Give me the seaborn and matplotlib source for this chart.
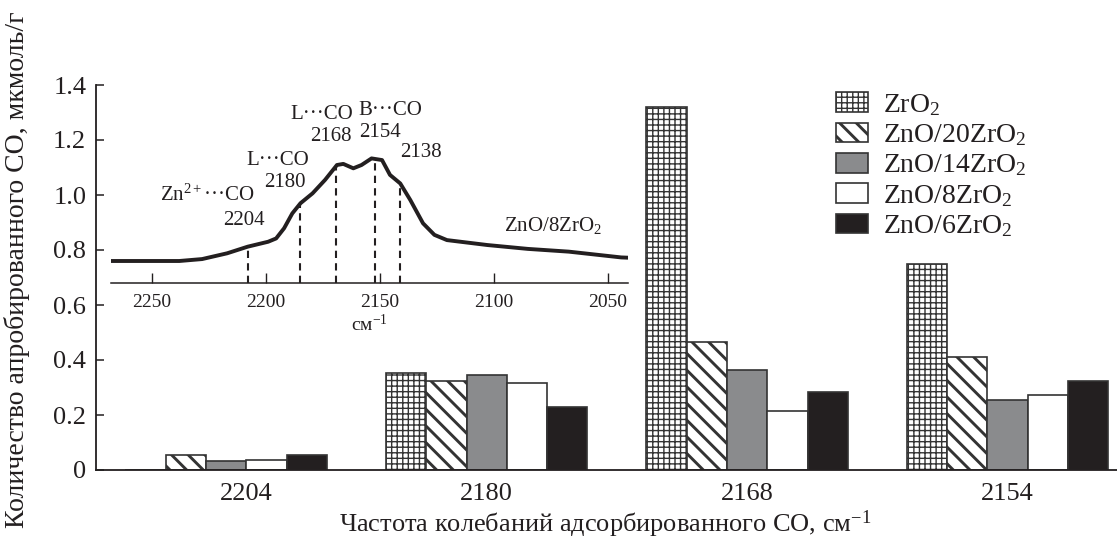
import numpy as np
import pandas as pd
import matplotlib
matplotlib.use("Agg")
import matplotlib.pyplot as plt
import seaborn as sns

# ---------------- data ----------------
categories = ["2204", "2180", "2168", "2154"]
series = ["ZrO$_2$", "ZnO/20ZrO$_2$", "ZnO/14ZrO$_2$", "ZnO/8ZrO$_2$", "ZnO/6ZrO$_2$"]
zro2 = [0.0, 0.353, 1.319, 0.749]
zno_20zro2 = [0.054, 0.324, 0.467, 0.411]
zno_14zro2 = [0.032, 0.347, 0.362, 0.255]
zno_8zro2 = [0.036, 0.318, 0.215, 0.273]
zno_6zro2 = [0.054, 0.229, 0.284, 0.324]

# inset IR spectrum of ZnO/8ZrO2 (wavenumber, arbitrary absorbance units)
spec_wn = [2268, 2238, 2228, 2217, 2208, 2199, 2195.5, 2192, 2188.4, 2184.8,
           2179.5, 2174, 2168.8, 2166, 2161.6, 2158, 2153.6, 2149, 2145.5,
           2141, 2136.6, 2131, 2126, 2120.5, 2102.7, 2085, 2067, 2044, 2041]
spec_abs = [0.760, 0.760, 0.767, 0.788, 0.812, 0.830, 0.842, 0.879, 0.933, 0.970,
            1.006, 1.055, 1.109, 1.113, 1.097, 1.109, 1.133, 1.127, 1.073,
            1.042, 0.982, 0.897, 0.855, 0.836, 0.818, 0.804, 0.794, 0.773, 0.772]
band_lines = [2208, 2185, 2169, 2152, 2141]
inset_ticks = [2250, 2200, 2150, 2100, 2050]

# ---------------- style ----------------
sns.set_theme(style="white")
plt.rcParams["font.family"] = ["Liberation Serif", "DejaVu Serif"]
plt.rcParams["mathtext.fontset"] = "custom"
plt.rcParams["mathtext.rm"] = "Liberation Serif"
plt.rcParams["mathtext.it"] = "Liberation Serif:italic"
plt.rcParams["hatch.color"] = "#231f20"
ink = "#231f20"

W, H = 1117, 540
fig = plt.figure(figsize=(W / 100, H / 100), dpi=100)

def fx(px):
    return px / W

def fy(py):
    return 1 - py / H

ax = fig.add_axes([fx(96), fy(470), fx(1117) - fx(96), fy(85) - fy(470)])

df = pd.DataFrame({
    "band": np.tile(categories, len(series)),
    "sample": np.repeat(series, len(categories)),
    "value": np.concatenate([zro2, zno_20zro2, zno_14zro2, zno_8zro2, zno_6zro2]),
})

faces = ["white", "white", "#8a8b8d", "white", ink]
hatches = ["+++", "\\\\", "", "", ""]
hatch_lw = [1.0, 2.1, 1.0, 1.0, 1.0]

with plt.rc_context({"hatch.linewidth": 1.0}):
    sns.barplot(data=df, x="band", y="value", hue="sample", order=categories,
                hue_order=series, palette=faces, saturation=1, width=0.774,
                edgecolor="#333333", linewidth=1.2, legend=False, ax=ax)


def style_patch(p, hatch, lw):
    p.set_hatch(hatch)
    if hasattr(p, "set_hatch_linewidth"):
        try:
            p.set_hatch_linewidth(lw)
        except Exception:
            pass
    if hasattr(p, "_hatch_linewidth"):
        p._hatch_linewidth = lw
    orig = p.draw

    def draw(renderer, _orig=orig, _lw=lw):
        with plt.rc_context({"hatch.linewidth": _lw}):
            _orig(renderer)
    p.draw = draw


for cont, h, lw in zip(ax.containers, hatches, hatch_lw):
    for p in cont.patches:
        style_patch(p, h, lw)

ax.set_xlim(-0.50, 3.42)
ax.set_ylim(0, 1.4)
ax.set_yticks(np.arange(0, 1.41, 0.2))
ax.set_yticklabels(["0"] + [f"{v:.1f}" for v in np.arange(0.2, 1.41, 0.2)])

# tick labels centred on the drawn (non-zero) bars of each group
centers = []
for i in range(len(categories)):
    xs = [c.patches[i].get_x() + c.patches[i].get_width() / 2
          for c in ax.containers if c.patches[i].get_height() > 0]
    centers.append(np.mean(xs))
ax.set_xticks(centers)
ax.set_xticklabels(categories)

ax.tick_params(axis="y", direction="in", length=6, width=1.1, color=ink,
               labelsize=19, pad=7, labelcolor=ink, left=True)
ax.tick_params(axis="x", length=0, labelsize=19, pad=9, labelcolor=ink)
ax.set_xlabel("")
ax.set_ylabel("")
sns.despine(ax=ax)
for s in ["left", "bottom"]:
    ax.spines[s].set_color(ink)
    ax.spines[s].set_linewidth(1.3)

leg = ax.legend(handles=[c.patches[0] for c in ax.containers], labels=series,
                loc="upper left", bbox_to_anchor=(fx(836), fy(92)),
                bbox_transform=fig.transFigure, frameon=False, fontsize=20,
                handlelength=1.15, handleheight=0.72, handletextpad=0.55,
                labelspacing=0.16, borderaxespad=0, borderpad=0)
for t in leg.get_texts():
    t.set_color(ink)
for hp, h, lw in zip(leg.legend_handles, hatches, hatch_lw):
    style_patch(hp, h, lw)

fig.text(fx(605), fy(532), "Частота колебаний адсорбированного CO, см$^{-1}$",
         ha="center", va="baseline", fontsize=19, color=ink)
fig.text(fx(17), fy(270), "Количество апробированного CO, мкмоль/г",
         ha="center", va="center", rotation=90, fontsize=20, color=ink)

# ---------------- inset ----------------
axin = fig.add_axes([fx(111), fy(283), fx(628) - fx(111), fy(110) - fy(283)])
axin.patch.set_alpha(0)
sns.lineplot(x=spec_wn, y=spec_abs, ax=axin, color=ink, linewidth=2.8,
             estimator=None)
axin.set_xlim(2268, 2041)
axin.set_ylim(0.68, 1.309)
order = np.argsort(spec_wn)
tops = np.interp(band_lines, np.array(spec_wn)[order], np.array(spec_abs)[order])
axin.vlines(band_lines, 0.68, tops, colors=ink, linestyles=(0, (3.5, 2.5)),
            linewidth=1.5)
axin.set_xticks(inset_ticks)
axin.set_xticklabels([str(t) for t in inset_ticks])
axin.set_yticks([])
axin.tick_params(axis="x", direction="in", length=7, width=1.0, color=ink,
                 labelsize=14, pad=8, labelcolor=ink, bottom=True)
for s in ["left", "right", "top"]:
    axin.spines[s].set_visible(False)
axin.spines["bottom"].set_color(ink)
axin.spines["bottom"].set_linewidth(1.1)
axin.set_xlabel("см$^{-1}$", fontsize=14, color=ink, labelpad=2)

notes = [
    ("Zn$^{2+}$\u00b7\u00b7\u00b7CO", 2225.9, 1.000),
    ("2204", 2209.8, 0.909),
    ("L\u00b7\u00b7\u00b7CO", 2194.6, 1.127),
    ("2180", 2191.6, 1.044),
    ("L\u00b7\u00b7\u00b7CO", 2175.4, 1.291),
    ("2168", 2171.3, 1.211),
    ("B\u00b7\u00b7\u00b7CO", 2145.4, 1.309),
    ("2154", 2149.8, 1.229),
    ("2138", 2131.8, 1.156),
    ("ZnO/8ZrO$_2$", 2074.1, 0.890),
]
for txt, xw, yv in notes:
    axin.text(xw, yv, txt, ha="center", va="center", fontsize=15, color=ink,
              clip_on=False)

fig.savefig("out.png", dpi=100)
